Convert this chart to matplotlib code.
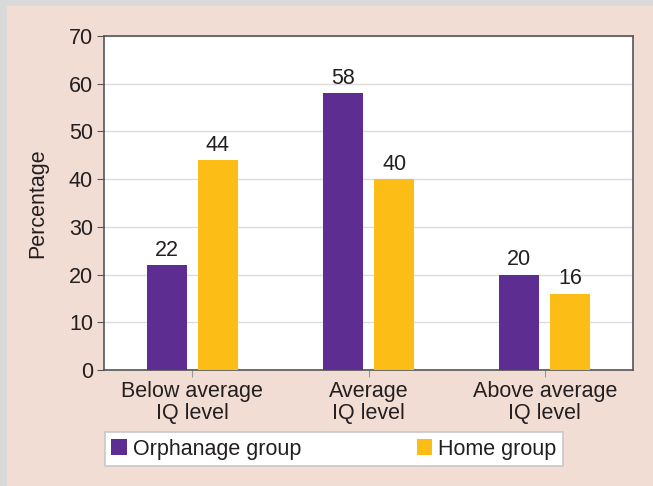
import numpy as np
import matplotlib.pyplot as plt
from matplotlib.patches import Rectangle

plt.rcParams['font.family'] = ['Liberation Sans', 'DejaVu Sans']

categories = ['Below average\nIQ level', 'Average\nIQ level', 'Above average\nIQ level']
orphanage = [22, 58, 20]
home = [44, 40, 16]
series_names = ['Orphanage group', 'Home group']

purple = '#5e2d91'
yellow = '#fdbd17'
bg = '#f2ddd5'
text_col = '#231f20'
fs = 15.5

fig = plt.figure(figsize=(6.53, 4.86), dpi=100, facecolor=bg)
# grey strips along top and left edge of the picture
fig.patches.append(Rectangle((0, 1 - 6 / 486), 1, 6 / 486, transform=fig.transFigure,
                             facecolor='#d9d9d9', edgecolor='none', zorder=0))
fig.patches.append(Rectangle((0, 0), 7 / 653, 1, transform=fig.transFigure,
                             facecolor='#d9d9d9', edgecolor='none', zorder=0))

ax = fig.add_axes([104 / 653, 1 - 370 / 486, 529 / 653, 334 / 486])
ax.set_facecolor('white')

x = np.arange(len(categories))
w = 0.227
off = 0.145
b1 = ax.bar(x - off, orphanage, w, color=purple, label=series_names[0], zorder=3)
b2 = ax.bar(x + off, home, w, color=yellow, label=series_names[1], zorder=3)

for bars in (b1, b2):
    ax.bar_label(bars, padding=3, fontsize=fs, color=text_col)

ax.set_xlim(-0.5, 2.5)
ax.set_ylim(0, 70)
ax.set_yticks(range(0, 71, 10))
ax.set_xticks(x)
ax.set_xticklabels(categories, fontsize=fs, color=text_col, linespacing=1.05)
ax.tick_params(axis='y', labelsize=fs, labelcolor=text_col, length=5, color='#555555', pad=3)
ax.tick_params(axis='x', length=5, color='#999999', pad=3)
ax.yaxis.grid(True, color='#dddddd', linewidth=1, zorder=0)
ax.set_axisbelow(True)
for s in ax.spines.values():
    s.set_color('#555555')
    s.set_linewidth(1.2)

ax.set_ylabel('Percentage', fontsize=fs, color=text_col, labelpad=15)

leg = fig.legend(loc='lower left', bbox_to_anchor=(105 / 653, 1 - 466 / 486, 458 / 653, 34 / 486),
                 mode='expand', ncol=2, fontsize=fs, frameon=True, fancybox=False, framealpha=1,
                 handlelength=0.7, handleheight=0.7, handletextpad=0.3,
                 borderpad=0.3, borderaxespad=0, columnspacing=1.0)
leg.get_frame().set_edgecolor('#c8c8c8')
leg.get_frame().set_facecolor('white')
leg.get_frame().set_linewidth(1.2)
for t in leg.get_texts():
    t.set_color(text_col)

fig.savefig('out.png', dpi=100, facecolor=bg)
